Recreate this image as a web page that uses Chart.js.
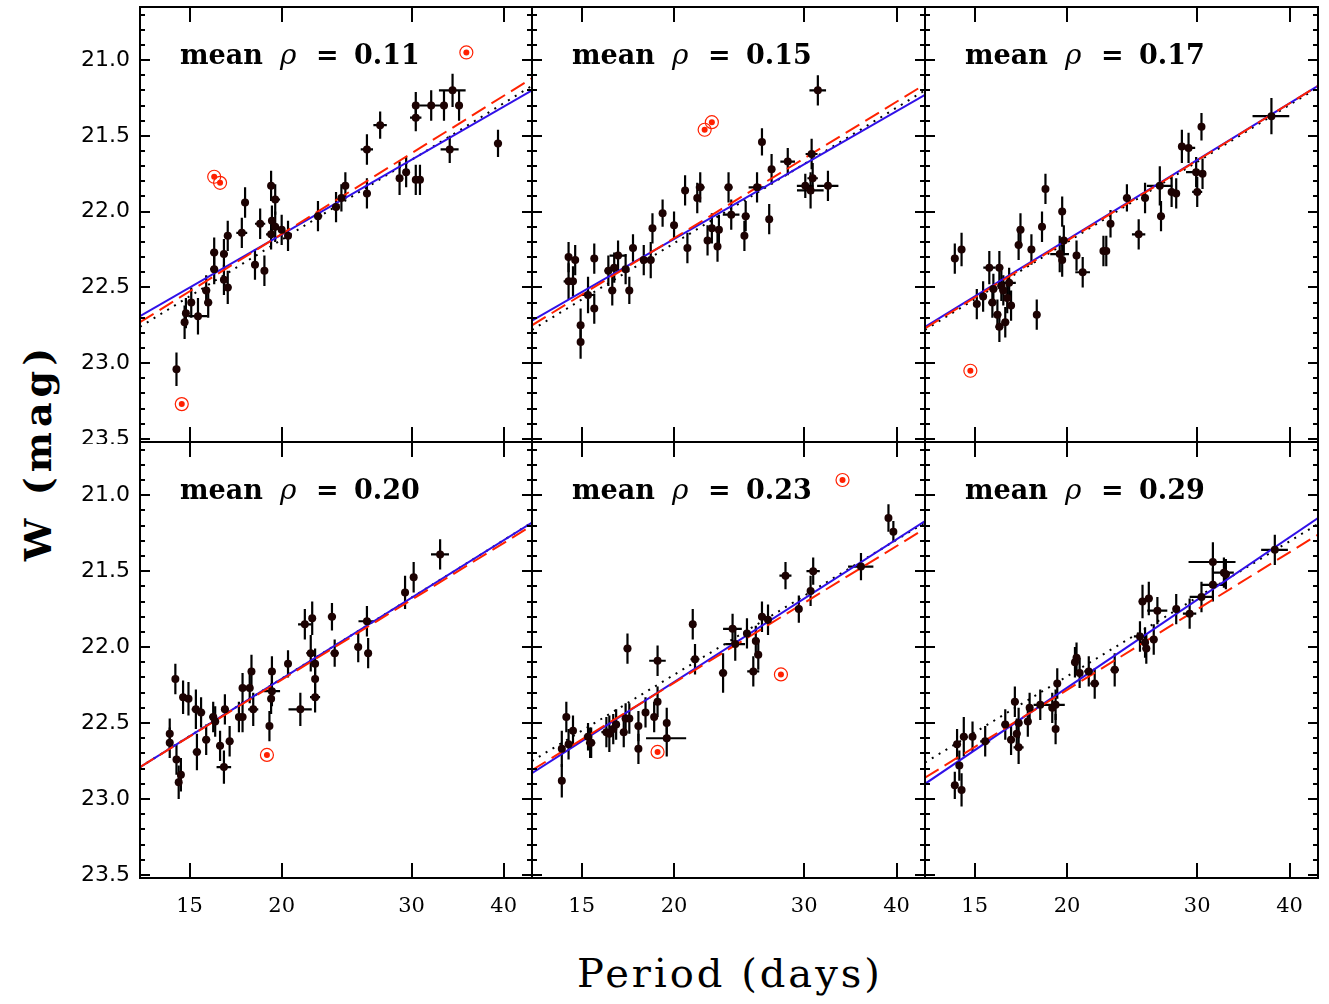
<!DOCTYPE html>
<html>
<head>
<meta charset="utf-8">
<title>W vs Period panels</title>
<script src="https://cdn.jsdelivr.net/npm/chart.js@4.4.1/dist/chart.umd.min.js"></script>
<style>
  body { margin: 0; background: #fff; width: 1329px; height: 1004px; position: relative; overflow: hidden; }
  canvas { position: absolute; }
  .xtitle { position: absolute; left: 730px; top: 950px; transform: translateX(-50%); font: 40px 'DejaVu Serif'; letter-spacing: 3px; white-space: nowrap; }
  .ytitle { position: absolute; left: 37px; top: 452px; transform: translate(-50%, -50%) rotate(-90deg); font: bold 38px 'DejaVu Serif'; letter-spacing: 5px; white-space: nowrap; }
</style>
</head>
<body>
<div class="ytitle">W (mag)</div>
<div class="xtitle">Period (days)</div>
<script>
// panel labels and axis ticks
const meanRho = ['0.11', '0.15', '0.17', '0.20', '0.23', '0.29'];
const xTickValues = [15, 20, 30, 40];
const yTickValues = [21.0, 21.5, 22.0, 22.5, 23.0, 23.5];

// fit lines (W at the two ends of the period range)
const fitPeriods = [12.85, 43.7];
const blueFit = [[22.69, 21.20], [22.72, 21.23], [22.76, 21.17], [22.79, 21.18], [22.83, 21.17], [22.90, 21.15]];
const redFit  = [[22.73, 21.12], [22.75, 21.16], [22.77, 21.17], [22.79, 21.20], [22.81, 21.22], [22.86, 21.26]];
const dotFit  = [[22.76, 21.17], [22.78, 21.20], [22.78, 21.18], [22.79, 21.18], [22.75, 21.18], [22.76, 21.19]];

// panel 1 (mean rho 0.11)
const p1Period = [14.4, 14.77, 14.83, 15.08, 15.4, 15.8, 15.9, 16.2, 16.2, 16.7, 16.7, 16.9, 16.9, 17.66, 17.84, 18.4, 18.7, 18.95, 19.35, 19.6, 19.4, 19.35, 19.6, 20.0, 20.4, 22.4, 23.7, 24.1, 24.4, 26.1, 26.1, 27.2, 28.9, 29.5, 30.4, 30.4, 30.4, 30.8, 31.9, 33.2, 34.1, 34.8, 33.8, 39.3];
const p1Mag    = [23.04, 22.73, 22.67, 22.60, 22.69, 22.52, 22.60, 22.27, 22.38, 22.28, 22.45, 22.50, 22.16, 22.14, 21.94, 22.35, 22.08, 22.39, 21.83, 21.92, 22.06, 22.15, 22.10, 22.12, 22.16, 22.03, 21.97, 21.91, 21.83, 21.59, 21.88, 21.43, 21.78, 21.74, 21.30, 21.38, 21.79, 21.79, 21.30, 21.30, 21.20, 21.30, 21.59, 21.55];
const p1MagErr = [0.11, 0.11, 0.1, 0.1, 0.12, 0.1, 0.1, 0.1, 0.1, 0.1, 0.1, 0.11, 0.1, 0.1, 0.1, 0.1, 0.1, 0.1, 0.1, 0.1, 0.1, 0.1, 0.1, 0.1, 0.1, 0.1, 0.1, 0.09, 0.09, 0.1, 0.1, 0.09, 0.11, 0.1, 0.09, 0.09, 0.1, 0.1, 0.1, 0.1, 0.11, 0.1, 0.09, 0.09];
const p1PerErr = [0.15, 0.15, 0.15, 0.15, 0.46, 0.2, 0.2, 0.2, 0.2, 0.2, 0.2, 0.2, 0.2, 0.3, 0.2, 0.2, 0.3, 0.2, 0.2, 0.3, 0.2, 0.3, 0.2, 0.2, 0.2, 0.3, 0.3, 0.2, 0.2, 0.5, 0.3, 0.57, 0.3, 0.3, 0.3, 0.54, 0.3, 0.3, 1.16, 0.4, 1.42, 0.4, 0.95, 0.5];
const p1OutPeriod = [14.64, 16.2, 16.5, 35.6];
const p1OutMag    = [23.27, 21.77, 21.81, 20.95];

// panel 2 (mean rho 0.15)
const p2Period = [14.4, 14.4, 14.6, 14.7, 14.95, 14.95, 15.3, 15.6, 15.6, 16.3, 16.5, 16.6, 16.8, 17.2, 17.4, 17.6, 18.2, 18.6, 18.7, 19.3, 20.0, 20.85, 20.7, 21.5, 21.7, 22.2, 22.5, 22.9, 23.0, 23.7, 23.9, 24.9, 25.0, 25.9, 26.9, 26.3, 27.1, 28.5, 30.1, 30.6, 30.8, 30.7, 32.3, 31.3];
const p2Mag    = [22.30, 22.46, 22.46, 22.32, 22.75, 22.86, 22.55, 22.31, 22.64, 22.39, 22.52, 22.37, 22.29, 22.38, 22.52, 22.24, 22.32, 22.32, 22.11, 22.01, 22.09, 22.24, 21.86, 21.91, 21.84, 22.19, 22.11, 22.23, 22.12, 21.84, 22.02, 22.16, 22.03, 21.84, 22.05, 21.54, 21.72, 21.67, 21.83, 21.86, 21.78, 21.62, 21.83, 21.20];
const p2MagErr = [0.1, 0.12, 0.1, 0.1, 0.11, 0.11, 0.12, 0.1, 0.1, 0.1, 0.1, 0.1, 0.1, 0.1, 0.09, 0.09, 0.1, 0.12, 0.1, 0.09, 0.09, 0.1, 0.1, 0.1, 0.1, 0.1, 0.1, 0.1, 0.1, 0.1, 0.1, 0.1, 0.1, 0.1, 0.1, 0.09, 0.1, 0.09, 0.08, 0.12, 0.1, 0.1, 0.1, 0.1];
const p2PerErr = [0.15, 0.22, 0.15, 0.15, 0.15, 0.15, 0.32, 0.15, 0.15, 0.2, 0.2, 0.2, 0.44, 0.2, 0.2, 0.2, 0.2, 0.2, 0.2, 0.2, 0.2, 0.2, 0.2, 0.2, 0.3, 0.2, 0.2, 0.2, 0.2, 0.3, 0.62, 0.2, 0.3, 0.67, 0.2, 0.2, 0.3, 0.65, 0.78, 1.27, 0.5, 0.57, 1.07, 0.81];
const p2OutPeriod = [22.0, 22.5];
const p2OutMag    = [21.46, 21.41];

// panel 3 (mean rho 0.17)
const p3Period = [14.1, 14.4, 15.1, 15.4, 15.7, 15.9, 15.85, 16.1, 16.2, 16.2, 16.3, 16.4, 16.5, 16.6, 16.7, 16.8, 17.2, 17.3, 17.9, 18.2, 18.5, 18.7, 19.55, 19.7, 19.7, 19.8, 20.6, 21.0, 22.4, 22.6, 22.9, 24.1, 25.0, 25.5, 26.7, 26.8, 27.7, 28.1, 28.6, 29.2, 29.9, 30.0, 30.5, 30.4, 37.8];
const p3Mag    = [22.31, 22.25, 22.61, 22.56, 22.37, 22.51, 22.60, 22.68, 22.37, 22.76, 22.49, 22.52, 22.73, 22.57, 22.47, 22.62, 22.22, 22.12, 22.25, 22.68, 22.10, 21.85, 22.28, 22.00, 22.32, 22.19, 22.29, 22.40, 22.26, 22.26, 22.08, 21.91, 22.15, 21.91, 21.83, 22.03, 21.87, 21.88, 21.57, 21.58, 21.74, 21.87, 21.75, 21.44, 21.37];
const p3MagErr = [0.1, 0.11, 0.1, 0.1, 0.11, 0.1, 0.1, 0.1, 0.11, 0.1, 0.1, 0.1, 0.1, 0.1, 0.1, 0.1, 0.1, 0.11, 0.1, 0.1, 0.1, 0.1, 0.12, 0.1, 0.11, 0.1, 0.1, 0.1, 0.1, 0.1, 0.09, 0.09, 0.1, 0.1, 0.13, 0.1, 0.1, 0.1, 0.11, 0.1, 0.1, 0.1, 0.1, 0.09, 0.12];
const p3PerErr = [0.15, 0.15, 0.15, 0.15, 0.29, 0.2, 0.2, 0.2, 0.2, 0.2, 0.2, 0.2, 0.2, 0.2, 0.35, 0.2, 0.2, 0.2, 0.2, 0.2, 0.2, 0.2, 0.57, 0.2, 0.2, 0.2, 0.2, 0.48, 0.2, 0.2, 0.2, 0.3, 0.52, 0.3, 1.06, 0.3, 0.3, 0.3, 0.3, 0.61, 0.93, 0.47, 0.3, 0.3, 2.16];
const p3OutPeriod = [14.8];
const p3OutMag    = [23.05];

// panel 4 (mean rho 0.20)
const p4Period = [14.1, 14.1, 14.35, 14.4, 14.5, 14.6, 14.7, 14.95, 15.3, 15.35, 15.55, 15.8, 16.15, 16.25, 16.5, 16.7, 16.75, 17.0, 17.5, 17.7, 17.7, 18.1, 18.2, 18.3, 19.25, 19.35, 19.4, 19.4, 20.4, 21.2, 21.5, 22.0, 21.9, 22.2, 22.2, 22.2, 23.4, 23.6, 25.4, 26.1, 26.2, 29.4, 30.2, 32.8];
const p4Mag    = [22.57, 22.63, 22.21, 22.74, 22.89, 22.84, 22.33, 22.34, 22.41, 22.69, 22.43, 22.61, 22.46, 22.49, 22.65, 22.79, 22.41, 22.62, 22.46, 22.46, 22.27, 22.27, 22.16, 22.41, 22.52, 22.34, 22.29, 22.16, 22.11, 22.41, 21.85, 21.81, 22.04, 22.11, 22.21, 22.33, 21.80, 22.04, 22.00, 21.83, 22.04, 21.64, 21.54, 21.39];
const p4MagErr = [0.1, 0.1, 0.1, 0.1, 0.11, 0.11, 0.11, 0.11, 0.13, 0.12, 0.1, 0.1, 0.1, 0.1, 0.1, 0.11, 0.1, 0.1, 0.1, 0.1, 0.1, 0.1, 0.11, 0.11, 0.1, 0.1, 0.1, 0.1, 0.09, 0.11, 0.1, 0.11, 0.12, 0.1, 0.1, 0.1, 0.09, 0.09, 0.1, 0.1, 0.1, 0.11, 0.1, 0.1];
const p4PerErr = [0.15, 0.15, 0.15, 0.15, 0.15, 0.15, 0.15, 0.15, 0.2, 0.2, 0.2, 0.2, 0.2, 0.2, 0.2, 0.38, 0.2, 0.2, 0.2, 0.2, 0.2, 0.2, 0.2, 0.29, 0.2, 0.2, 0.5, 0.2, 0.2, 0.77, 0.45, 0.2, 0.3, 0.2, 0.2, 0.35, 0.3, 0.3, 0.3, 0.68, 0.3, 0.3, 0.3, 0.92];
const p4OutPeriod = [19.1];
const p4OutMag    = [22.71];

// panel 5 (mean rho 0.23)
const p5Period = [14.1, 14.1, 14.3, 14.4, 14.6, 15.3, 15.4, 15.45, 16.2, 16.35, 16.55, 16.7, 17.1, 17.2, 17.4, 17.3, 17.9, 17.9, 18.3, 18.8, 19.0, 19.0, 19.55, 19.55, 21.2, 21.35, 23.3, 24.0, 24.2, 25.1, 25.8, 26.0, 25.6, 26.3, 26.8, 28.3, 29.5, 30.6, 30.85, 35.8, 39.0, 39.6];
const p5Mag    = [22.88, 22.67, 22.46, 22.64, 22.55, 22.59, 22.63, 22.63, 22.56, 22.57, 22.54, 22.51, 22.56, 22.47, 22.47, 22.01, 22.52, 22.67, 22.43, 22.46, 22.36, 22.09, 22.50, 22.60, 21.85, 22.08, 22.17, 21.88, 21.98, 21.91, 21.96, 22.05, 22.16, 21.80, 21.82, 21.53, 21.75, 21.63, 21.50, 21.47, 21.15, 21.24];
const p5MagErr = [0.11, 0.12, 0.1, 0.1, 0.1, 0.09, 0.1, 0.1, 0.1, 0.12, 0.1, 0.1, 0.1, 0.1, 0.1, 0.1, 0.1, 0.1, 0.1, 0.1, 0.1, 0.1, 0.1, 0.12, 0.1, 0.1, 0.13, 0.1, 0.11, 0.1, 0.1, 0.1, 0.1, 0.1, 0.1, 0.09, 0.09, 0.1, 0.09, 0.09, 0.09, 0.07];
const p5PerErr = [0.15, 0.15, 0.15, 0.15, 0.15, 0.2, 0.2, 0.2, 0.25, 0.2, 0.2, 0.2, 0.2, 0.2, 0.2, 0.2, 0.2, 0.2, 0.2, 0.2, 0.2, 0.49, 0.2, 1.22, 0.2, 0.3, 0.3, 0.7, 0.75, 0.3, 0.3, 0.3, 0.48, 0.3, 0.3, 0.53, 0.3, 0.3, 0.64, 1.41, 0.4, 0.4];
const p5OutPeriod = [33.8, 27.9, 19.0];
const p5OutMag    = [20.90, 22.18, 22.69];

// panel 6 (mean rho 0.29)
const p6Period = [14.1, 14.2, 14.3, 14.4, 14.5, 14.9, 15.5, 16.5, 16.8, 17.0, 17.1, 17.2, 17.2, 17.7, 17.8, 18.4, 19.1, 19.3, 19.4, 19.3, 20.5, 20.6, 20.8, 21.4, 21.8, 23.2, 25.1, 25.3, 25.5, 25.6, 25.8, 26.2, 26.5, 28.1, 29.3, 30.4, 31.5, 31.5, 32.6, 32.8, 38.2];
const p6Mag    = [22.91, 22.64, 22.78, 22.94, 22.59, 22.59, 22.62, 22.51, 22.61, 22.36, 22.57, 22.50, 22.66, 22.49, 22.40, 22.38, 22.40, 22.38, 22.24, 22.54, 22.10, 22.07, 22.17, 22.16, 22.24, 22.15, 21.93, 21.70, 21.97, 22.01, 21.68, 21.95, 21.76, 21.75, 21.78, 21.67, 21.44, 21.59, 21.51, 21.52, 21.36];
const p6MagErr = [0.09, 0.1, 0.1, 0.11, 0.13, 0.1, 0.1, 0.1, 0.1, 0.1, 0.1, 0.1, 0.11, 0.1, 0.1, 0.1, 0.1, 0.1, 0.1, 0.1, 0.1, 0.1, 0.1, 0.1, 0.1, 0.11, 0.1, 0.11, 0.1, 0.1, 0.11, 0.1, 0.09, 0.1, 0.1, 0.1, 0.13, 0.11, 0.1, 0.1, 0.1];
const p6PerErr = [0.15, 0.15, 0.15, 0.15, 0.15, 0.15, 0.24, 0.2, 0.2, 0.2, 0.2, 0.2, 0.27, 0.2, 0.2, 0.38, 0.2, 0.56, 0.2, 0.2, 0.2, 0.2, 0.2, 0.3, 0.3, 0.3, 0.47, 0.3, 0.3, 0.3, 0.3, 0.3, 0.83, 0.3, 0.61, 1.1, 2.3, 1.15, 1.02, 0.4, 1.59];

const panels = [
  {period: p1Period, mag: p1Mag, magErr: p1MagErr, perErr: p1PerErr, outPeriod: p1OutPeriod, outMag: p1OutMag},
  {period: p2Period, mag: p2Mag, magErr: p2MagErr, perErr: p2PerErr, outPeriod: p2OutPeriod, outMag: p2OutMag},
  {period: p3Period, mag: p3Mag, magErr: p3MagErr, perErr: p3PerErr, outPeriod: p3OutPeriod, outMag: p3OutMag},
  {period: p4Period, mag: p4Mag, magErr: p4MagErr, perErr: p4PerErr, outPeriod: p4OutPeriod, outMag: p4OutMag},
  {period: p5Period, mag: p5Mag, magErr: p5MagErr, perErr: p5PerErr, outPeriod: p5OutPeriod, outMag: p5OutMag},
  {period: p6Period, mag: p6Mag, magErr: p6MagErr, perErr: p6PerErr, outPeriod: [], outMag: []}
];

// panel boxes on the page
const colLeft = [140, 532, 925], colRight = [532, 925, 1318];
const rowTop = [7, 442], rowBottom = [442, 878];

const errorBars = {
  id: 'errorBars',
  beforeDatasetsDraw(chart, args, opts) {
    const {ctx, chartArea: a, scales: {x, y}} = chart;
    const pd = opts.panel;
    const meta = chart.getDatasetMeta(0);
    ctx.save();
    ctx.beginPath();
    ctx.rect(a.left, a.top, a.right - a.left, a.bottom - a.top);
    ctx.clip();
    ctx.strokeStyle = '#000';
    ctx.lineWidth = 2.2;
    meta.data.forEach((pt, k) => {
      const y1 = y.getPixelForValue(pd.mag[k] - pd.magErr[k]);
      const y2 = y.getPixelForValue(pd.mag[k] + pd.magErr[k]);
      const x1 = x.getPixelForValue(pd.period[k] - pd.perErr[k]);
      const x2 = x.getPixelForValue(pd.period[k] + pd.perErr[k]);
      ctx.beginPath();
      ctx.moveTo(pt.x, y1); ctx.lineTo(pt.x, y2);
      ctx.moveTo(x1, pt.y); ctx.lineTo(x2, pt.y);
      ctx.stroke();
    });
    ctx.restore();
  }
};

const frame = {
  id: 'frame',
  afterDraw(chart, args, opts) {
    const {ctx, chartArea: a, scales: {x, y}} = chart;
    ctx.save();
    ctx.strokeStyle = '#000';
    ctx.lineWidth = 2;
    ctx.strokeRect(a.left, a.top, a.right - a.left, a.bottom - a.top);
    ctx.beginPath();
    for (let v = 20.7; v < 23.55; v += 0.1) {
      const py = Math.round(y.getPixelForValue(v));
      const major = Math.abs(v * 2 - Math.round(v * 2)) < 0.01;
      const len = major ? 10 : 5;
      ctx.moveTo(a.left, py); ctx.lineTo(a.left + len, py);
      ctx.moveTo(a.right, py); ctx.lineTo(a.right - len, py);
    }
    xTickValues.forEach(v => {
      const px = Math.round(x.getPixelForValue(v));
      ctx.moveTo(px, a.top); ctx.lineTo(px, a.top + 15);
      ctx.moveTo(px, a.bottom); ctx.lineTo(px, a.bottom - 15);
    });
    ctx.stroke();

    // panel label
    const bx = a.left + 40, by = a.top + 57;
    ctx.fillStyle = '#000';
    ctx.textBaseline = 'alphabetic';
    ctx.font = 'bold 27px "DejaVu Serif"';
    ctx.fillText('mean', bx, by);
    ctx.font = 'italic 28px "DejaVu Serif"';
    ctx.fillText('ρ', bx + 100, by);
    ctx.font = 'bold 27px "DejaVu Serif"';
    ctx.fillText('=', bx + 136, by);
    ctx.fillText(opts.label, bx + 174, by);
    ctx.restore();
  }
};

const noPad = s => { s.paddingTop = 0; s.paddingBottom = 0; s.paddingLeft = 0; s.paddingRight = 0; };

panels.forEach((pd, i) => {
  const r = Math.floor(i / 3), c = i % 3;
  const left = c === 0 ? 0 : colLeft[c] - 2;
  const top = rowTop[r] - 2;
  const width = colRight[c] + 2 - left;
  const height = (r === 1 ? rowBottom[r] + 50 : rowBottom[r] + 2) - top;

  const cv = document.createElement('canvas');
  cv.width = width; cv.height = height;
  cv.style.left = left + 'px'; cv.style.top = top + 'px';
  document.body.appendChild(cv);

  const pts = pd.period.map((p, k) => ({x: p, y: pd.mag[k]}));
  const outs = pd.outPeriod.map((p, k) => ({x: p, y: pd.outMag[k]}));
  const line = (ends) => fitPeriods.map((p, k) => ({x: p, y: ends[k]}));

  new Chart(cv, {
    type: 'scatter',
    data: {
      datasets: [
        {data: pts, pointRadius: 4, pointBackgroundColor: '#1c0202', pointBorderWidth: 0, order: 0},
        {data: outs, pointRadius: 3, pointBackgroundColor: '#ff2000', pointBorderWidth: 0, order: 1},
        {data: outs, pointRadius: 6.5, pointBackgroundColor: 'rgba(0,0,0,0)', pointBorderColor: '#ff2000', pointBorderWidth: 1.2, order: 1},
        {type: 'line', data: line(redFit[i]), borderColor: '#ff2200', borderWidth: 2, borderDash: [16, 7], pointRadius: 0, order: 2},
        {type: 'line', data: line(blueFit[i]), borderColor: '#3010e8', borderWidth: 2, pointRadius: 0, order: 3},
        {type: 'line', data: line(dotFit[i]), borderColor: '#000', borderWidth: 2, borderDash: [2, 6], pointRadius: 0, order: 4}
      ]
    },
    options: {
      responsive: false,
      animation: false,
      devicePixelRatio: 1,
      layout: {autoPadding: false, padding: {left: c === 0 ? 0 : 2, right: 2, top: 2, bottom: r === 1 ? 0 : 2}},
      plugins: {
        legend: {display: false},
        tooltip: {enabled: false},
        errorBars: {panel: pd},
        frame: {label: meanRho[i]}
      },
      scales: {
        x: {
          type: 'logarithmic',
          min: 12.85, max: 43.7,
          display: r === 1,
          grid: {display: false, drawTicks: false},
          border: {display: false},
          afterBuildTicks: s => { s.ticks = xTickValues.map(v => ({value: v})); },
          afterFit: s => { s.height = r === 1 ? 50 : 0; noPad(s); },
          ticks: {
            autoSkip: false, maxRotation: 0, padding: 16, color: '#000',
            font: {family: 'DejaVu Serif', size: 21},
            callback: v => String(v)
          }
        },
        y: {
          type: 'linear',
          reverse: true,
          min: 20.65, max: 23.52,
          display: c === 0,
          grid: {display: false, drawTicks: false},
          border: {display: false},
          afterBuildTicks: s => { s.ticks = yTickValues.map(v => ({value: v})); },
          afterFit: s => { s.width = c === 0 ? 140 : 0; noPad(s); },
          ticks: {
            padding: 10, color: '#000',
            font: {family: 'DejaVu Sans', size: 22},
            callback: v => Number(v).toFixed(1)
          }
        }
      }
    },
    plugins: [errorBars, frame]
  });
});
</script>
</body>
</html>
